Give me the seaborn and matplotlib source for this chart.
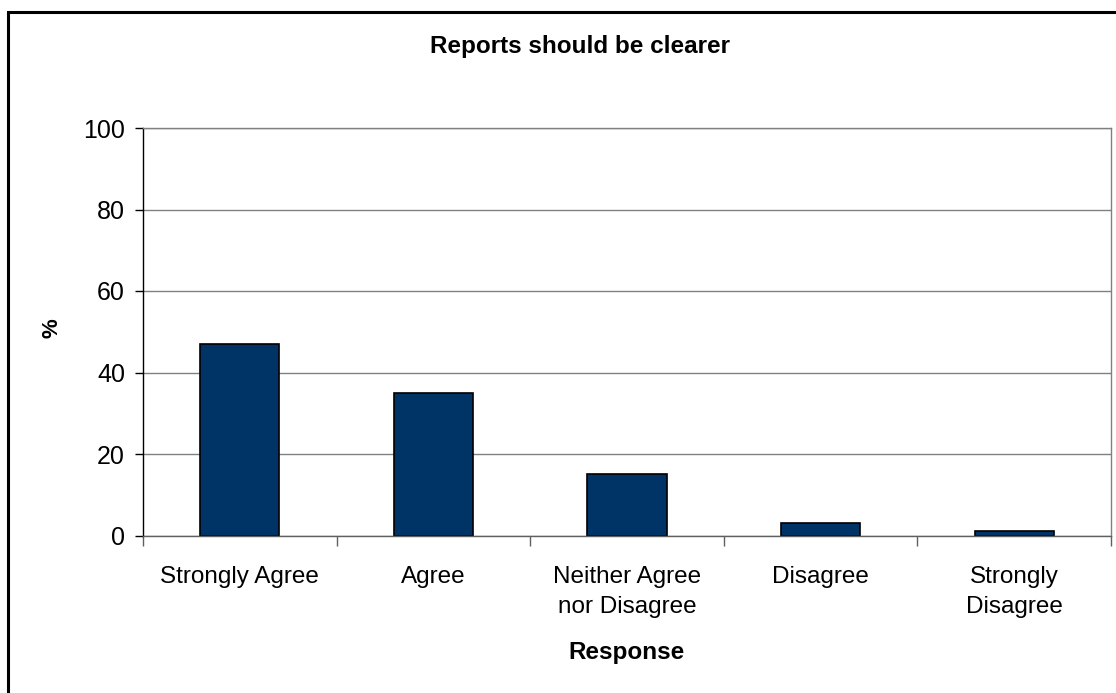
import matplotlib
matplotlib.use("Agg")
import matplotlib.pyplot as plt
import seaborn as sns
import pandas as pd
from matplotlib.patches import Rectangle
from matplotlib.ticker import FixedLocator

categories = ["Strongly Agree", "Agree", "Neither Agree\nnor Disagree", "Disagree", "Strongly\nDisagree"]
values = [47, 35, 15, 3, 1]
yticks = [0, 20, 40, 60, 80, 100]

sns.set_theme(style="white")
plt.rcParams['font.family'] = ['Liberation Sans', 'DejaVu Sans']
plt.rcParams['text.color'] = 'black'

fig = plt.figure(figsize=(11.16, 6.93), dpi=100)
ax = fig.add_axes([143/1116, 1-535.5/693, (1111-143)/1116, (535.5-128)/693])

df = pd.DataFrame({"cat": categories, "val": values})
sns.barplot(data=df, x="cat", y="val", color="#003366", saturation=1,
            edgecolor="black", linewidth=1.2, width=0.41, ax=ax)

ax.set_xlim(-0.5, 4.5)
ax.set_ylim(0, 100)
ax.set_yticks(yticks)
ax.yaxis.grid(True, color="#808080", linewidth=1)
ax.set_axisbelow(True)
for s in ["top", "right"]:
    ax.spines[s].set_visible(True)
    ax.spines[s].set_color("#808080")
ax.spines["left"].set_color("black")
ax.spines["bottom"].set_color("#606060")
for s in ax.spines.values():
    s.set_linewidth(1)

ax.tick_params(axis="y", which="major", left=True, length=6, width=1, color="black",
               labelsize=18, pad=7, labelcolor="black")
ax.tick_params(axis="x", which="major", bottom=False, length=0, labelsize=17.5, pad=22, labelcolor="black")
for lbl in ax.get_xticklabels():
    lbl.set_linespacing(1.45)
ax.xaxis.set_minor_locator(FixedLocator([-0.5, 0.5, 1.5, 2.5, 3.5, 4.5]))
ax.tick_params(axis="x", which="minor", bottom=True, length=7, width=1, color="#606060")

ax.set_xlabel("")
ax.set_ylabel("")

fig.text(580/1116, 1-47/693, "Reports should be clearer", ha="center", va="center",
         fontsize=17.5, fontweight="bold", color="black")
fig.text(627/1116, 1-653/693, "Response", ha="center", va="center",
         fontsize=17.5, fontweight="bold", color="black")
fig.text(52/1116, 1-328/693, "%", ha="center", va="center", rotation=90,
         fontsize=16, fontweight="bold", color="black")

fig.patches.append(Rectangle((8/1116, -0.1), 1.2, 1 - 12/693 + 0.1, transform=fig.transFigure,
                             fill=False, edgecolor="black", linewidth=2.2))

fig.savefig("out.png", dpi=100, facecolor="white")
